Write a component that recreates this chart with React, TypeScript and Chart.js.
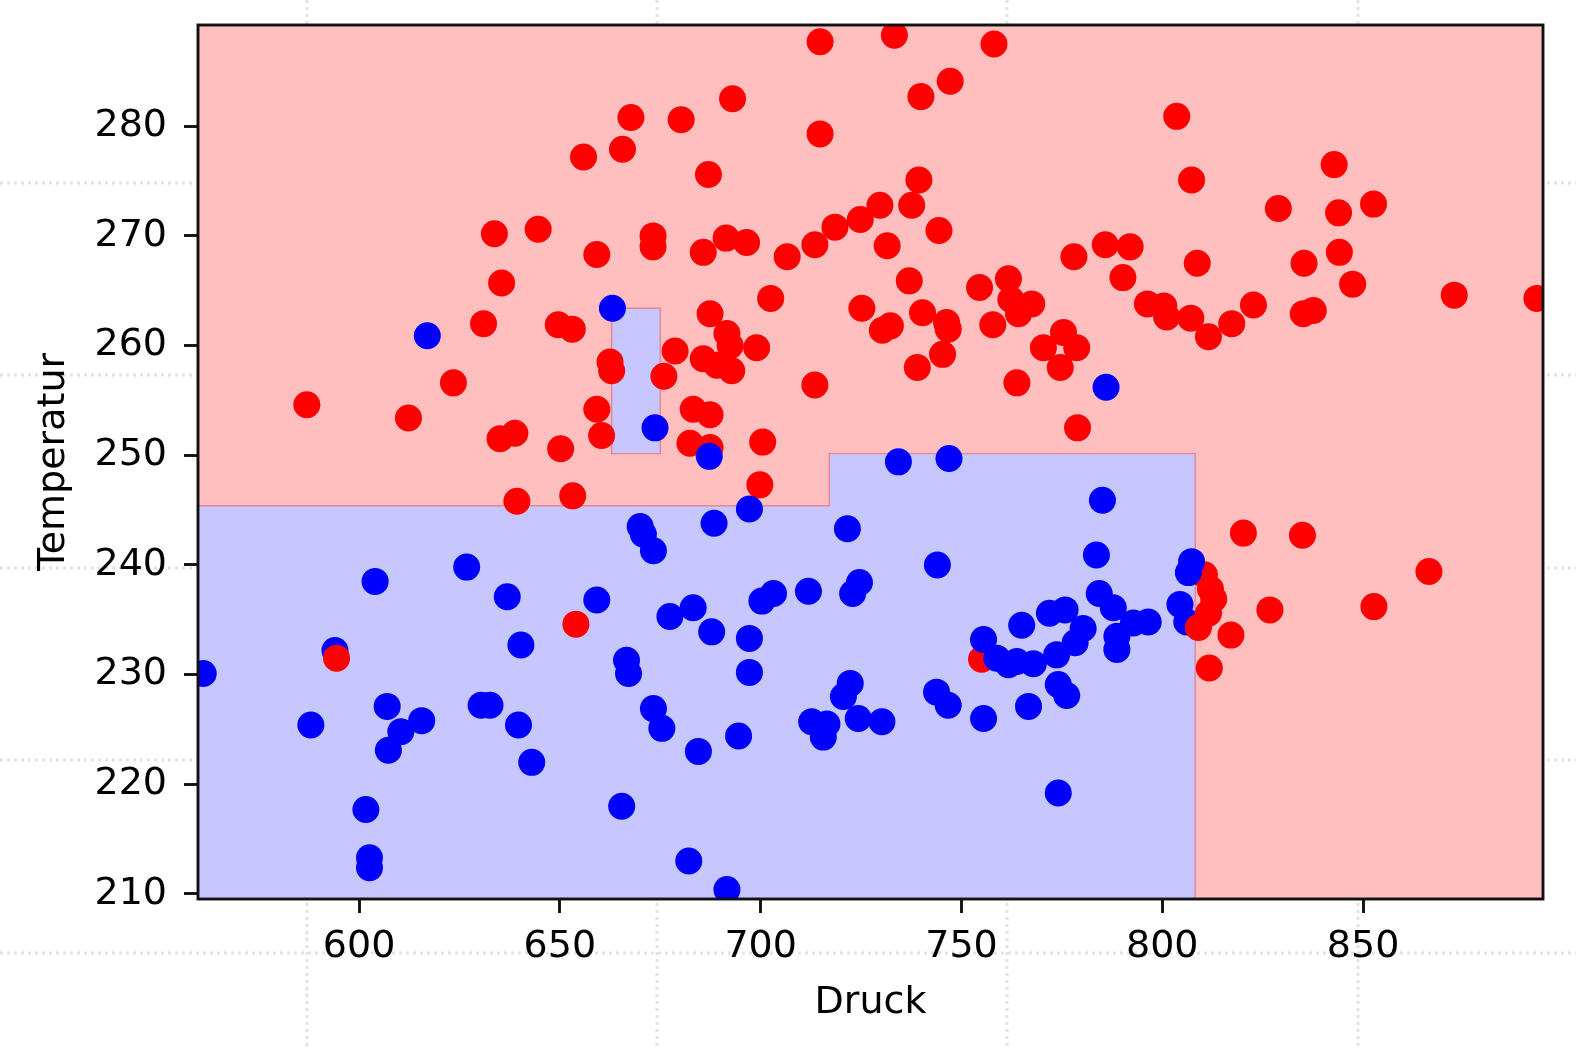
import React, { useEffect, useRef } from "react";
import { Chart, registerables } from "chart.js";

Chart.register(...registerables);

// ---- data ----
const redPressure = [
  667.7, 665.6, 655.9, 633.7, 644.6, 659.2, 673.2, 673.2, 635.5, 631.0,
  649.6, 653.1, 587.0, 612.3, 623.5, 635.1, 638.8, 650.2, 639.3, 653.2,
  654.0, 662.5, 662.9, 678.7, 675.9, 687.4, 691.6, 692.4, 685.7, 689.1,
  692.8, 699.0, 702.5, 659.2, 660.4, 683.2, 687.4, 682.4, 687.4, 700.5,
  699.8, 714.8, 733.3, 758.1, 747.2, 739.9, 693.0, 680.2, 714.8, 687.0,
  739.4, 737.6, 729.7, 724.8, 718.5, 744.4, 691.4, 696.5, 685.7, 706.6,
  713.5, 731.5, 778.0, 785.8, 792.0, 737.0, 754.5, 761.7, 762.3, 767.5,
  764.2, 725.2, 808.7, 790.2, 757.8, 746.3, 746.7, 745.3, 763.8, 775.4,
  770.4, 778.7, 774.6, 796.3, 800.4, 801.1, 807.1, 811.5, 817.3, 803.6,
  807.3, 828.9, 842.8, 843.9, 852.6, 835.3, 844.1, 847.4, 872.7, 893.3,
  822.7, 835.1, 837.6, 820.2, 834.9, 866.4, 826.8, 852.7, 713.5, 739.0,
  778.9, 810.5, 812.0, 812.8, 817.1, 811.7, 755.0, 730.3, 732.3, 740.3,
];
const redTemperature = [
  280.8, 277.9, 277.2, 270.2, 270.6, 268.3, 270.0, 269.0, 265.7, 262.0,
  261.9, 261.5, 254.6, 253.4, 256.6, 251.5, 252.0, 250.6, 245.8, 246.3,
  234.6, 258.5, 257.7, 259.5, 257.2, 262.9, 261.1, 260.0, 258.8, 258.2,
  257.7, 259.8, 264.3, 254.2, 251.8, 254.2, 253.7, 251.1, 250.7, 251.2,
  247.3, 287.7, 288.3, 287.5, 284.1, 282.7, 282.5, 280.6, 279.3, 275.6,
  275.1, 272.8, 272.8, 271.5, 270.8, 270.5, 269.8, 269.4, 268.5, 268.1,
  269.2, 269.1, 268.1, 269.2, 269.0, 265.9, 265.3, 266.1, 264.2, 263.8,
  262.9, 263.4, 267.5, 266.2, 261.9, 262.1, 261.5, 259.2, 256.6, 261.2,
  259.8, 259.8, 258.0, 263.8, 263.6, 262.6, 262.5, 260.8, 262.0, 280.9,
  275.1, 272.5, 276.5, 272.1, 272.9, 267.5, 268.5, 265.6, 264.6, 264.3,
  263.7, 262.9, 263.2, 242.9, 242.7, 239.4, 235.9, 236.2, 256.4, 258.0,
  252.5, 239.1, 237.8, 236.9, 233.6, 230.6, 231.4, 261.4, 261.8, 263.0,
];
// red samples that lie on top of overlapping blue samples
const redFrontPressure = [594.4, 809.0, 811.5];
const redFrontTemperature = [231.5, 234.3, 235.6];

const bluePressure = [
  663.1, 617.0, 673.7, 687.2, 786.0, 604.0, 626.8, 636.9, 659.2, 640.3,
  594.0, 561.2, 607.0, 615.6, 610.4, 607.3, 588.0, 630.4, 632.6, 639.7,
  643.0, 601.7, 602.6, 602.6, 734.3, 746.9, 785.1, 721.6, 744.0, 783.6,
  711.9, 724.6, 722.9, 807.3, 806.5, 804.4, 806.1, 784.3, 787.8, 796.5,
  792.8, 788.7, 788.7, 765.0, 771.9, 775.8, 780.3, 778.3, 755.5, 758.8,
  761.7, 767.9, 773.7, 763.8, 774.1, 776.2, 766.7, 755.5, 743.8, 746.7,
  722.3, 720.6, 724.3, 730.2, 712.7, 716.5, 715.6, 697.2, 688.4, 670.0,
  670.8, 673.3, 677.4, 683.2, 687.8, 700.3, 703.2, 697.2, 697.2, 666.6,
  667.1, 673.3, 675.4, 694.5, 684.5, 665.4, 774.1, 682.1, 691.6,
];
const blueTemperature = [
  263.4, 260.9, 252.5, 249.9, 256.2, 238.5, 239.8, 237.1, 236.8, 232.7,
  232.2, 230.1, 227.1, 225.8, 224.8, 223.1, 225.4, 227.2, 227.2, 225.4,
  222.0, 217.7, 213.3, 212.4, 249.4, 249.7, 245.9, 243.3, 240.0, 240.9,
  237.6, 238.4, 237.4, 240.3, 239.3, 236.4, 234.8, 237.4, 236.1, 234.8,
  234.7, 233.5, 232.3, 234.5, 235.6, 235.9, 234.2, 232.9, 233.2, 231.5,
  230.9, 231.0, 231.8, 231.2, 229.1, 228.1, 227.1, 226.0, 228.4, 227.2,
  229.2, 228.0, 226.0, 225.7, 225.7, 225.5, 224.3, 245.1, 243.8, 243.5,
  242.8, 241.3, 235.3, 236.1, 233.9, 236.7, 237.4, 233.3, 230.2, 231.3,
  230.1, 226.9, 225.1, 224.4, 223.0, 218.0, 219.2, 213.0, 210.4,
];

const xTickValues = [600, 650, 700, 750, 800, 850];
const yTickValues = [210, 220, 230, 240, 250, 260, 270, 280];
const pressureRange = [559.9, 894.8];
const temperatureRange = [209.54, 289.23];

// decision regions classified as "blue" (polygon corners in data units)
const blueRegionMainX = [559.9, 559.9, 717.1, 717.1, 808.2, 808.2];
const blueRegionMainY = [209.54, 245.4, 245.4, 250.15, 250.15, 209.54];
const blueRegionSmallX = [662.9, 662.9, 675.0, 675.0];
const blueRegionSmallY = [250.15, 263.4, 263.4, 250.15];

// ---- styling ----
const FONT = { family: "'DejaVu Sans', sans-serif", size: 38 };
const TEXT = "#000000";
const SPINE_W = 2.9;
const PAGE_GRID_X = [307, 657, 1007, 1358];
const PAGE_GRID_Y = [183, 375, 568, 760, 953];

const toPoints = (xs: number[], ys: number[]) => xs.map((x, i) => ({ x, y: ys[i] }));

const decisionPlugin = {
  id: "decisionSurface",
  beforeDraw(chart: any) {
    const { ctx } = chart;
    ctx.save();
    ctx.strokeStyle = "#e3e3e3";
    ctx.lineWidth = 3;
    ctx.setLineDash([3, 4]);
    for (const gx of PAGE_GRID_X) {
      ctx.beginPath();
      ctx.moveTo(gx, 0);
      ctx.lineTo(gx, chart.height);
      ctx.stroke();
    }
    for (const gy of PAGE_GRID_Y) {
      ctx.beginPath();
      ctx.moveTo(0, gy);
      ctx.lineTo(chart.width, gy);
      ctx.stroke();
    }
    ctx.restore();
  },
  beforeDatasetsDraw(chart: any) {
    const { ctx, chartArea: a, scales } = chart;
    const xs = scales.x;
    const ys = scales.y;
    ctx.save();
    ctx.beginPath();
    ctx.rect(a.left, a.top, a.right - a.left, a.bottom - a.top);
    ctx.clip();
    ctx.fillStyle = "#ffbfbf";
    ctx.fillRect(a.left, a.top, a.right - a.left, a.bottom - a.top);
    const poly = (px: number[], py: number[]) => {
      ctx.beginPath();
      px.forEach((v, i) => {
        const X = xs.getPixelForValue(v);
        const Y = ys.getPixelForValue(py[i]);
        if (i === 0) ctx.moveTo(X, Y);
        else ctx.lineTo(X, Y);
      });
      ctx.closePath();
      ctx.fillStyle = "#c7c7ff";
      ctx.fill();
      ctx.strokeStyle = "rgba(232, 110, 125, 0.75)";
      ctx.lineWidth = 1.4;
      ctx.stroke();
    };
    poly(blueRegionMainX, blueRegionMainY);
    poly(blueRegionSmallX, blueRegionSmallY);
    ctx.restore();
  },
  afterDatasetsDraw(chart: any) {
    const { ctx, chartArea: a } = chart;
    ctx.save();
    ctx.strokeStyle = "#111111";
    ctx.lineWidth = SPINE_W;
    ctx.strokeRect(a.left, a.top, a.right - a.left, a.bottom - a.top);
    ctx.restore();
  },
};

export default function App() {
  const ref = useRef<HTMLCanvasElement | null>(null);

  useEffect(() => {
    const canvas = ref.current;
    if (!canvas) return;
    const pointStyle = { borderWidth: 0, pointRadius: 13.5, pointHoverRadius: 13.5, clip: 0 };
    const chart = new Chart(canvas, {
      type: "scatter",
      data: {
        datasets: [
          { label: "rot", data: toPoints(redFrontPressure, redFrontTemperature), backgroundColor: "#ff0000", ...pointStyle },
          { label: "blau", data: toPoints(bluePressure, blueTemperature), backgroundColor: "#0000ff", ...pointStyle },
          { label: "rot", data: toPoints(redPressure, redTemperature), backgroundColor: "#ff0000", ...pointStyle },
        ],
      },
      options: {
        animation: false,
        responsive: true,
        maintainAspectRatio: false,
        events: [],
        layout: { padding: { top: 25, right: 33, left: 0, bottom: 0 } },
        plugins: { legend: { display: false }, tooltip: { enabled: false } },
        scales: {
          x: {
            type: "linear",
            min: pressureRange[0],
            max: pressureRange[1],
            afterBuildTicks: (s: any) => {
              s.ticks = xTickValues.map((v) => ({ value: v }));
            },
            afterFit: (s: any) => {
              s.height = 151;
              s.paddingLeft = 0;
              s.paddingRight = 0;
            },
            grid: { drawOnChartArea: false, drawTicks: true, tickLength: 14, tickWidth: SPINE_W, tickColor: "#111111" },
            border: { display: false },
            ticks: { color: TEXT, font: FONT, padding: 11, maxRotation: 0, autoSkip: false },
            title: { display: true, text: "Druck", color: TEXT, font: FONT, padding: { top: 0, bottom: 24 } },
          },
          y: {
            type: "linear",
            min: temperatureRange[0],
            max: temperatureRange[1],
            afterBuildTicks: (s: any) => {
              s.ticks = yTickValues.map((v) => ({ value: v }));
            },
            afterFit: (s: any) => {
              s.width = 198;
              s.paddingTop = 0;
              s.paddingBottom = 0;
            },
            grid: { drawOnChartArea: false, drawTicks: true, tickLength: 14, tickWidth: SPINE_W, tickColor: "#111111" },
            border: { display: false },
            ticks: { color: TEXT, font: FONT, padding: 17, autoSkip: false },
            title: { display: true, text: "Temperatur", color: TEXT, font: FONT, padding: { top: 31, bottom: 0 } },
          },
        },
      },
      plugins: [decisionPlugin],
    } as any);
    return () => chart.destroy();
  }, []);

  return (
    <div style={{ position: "absolute", left: 0, top: 0, width: 1576, height: 1050, background: "#ffffff" }}>
      <canvas ref={ref} />
    </div>
  );
}
